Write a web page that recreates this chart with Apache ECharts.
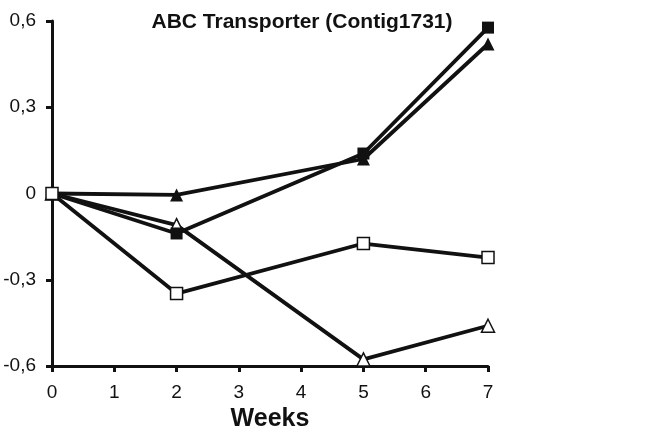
<!DOCTYPE html>
<html><head><meta charset="utf-8">
<script src="https://cdn.jsdelivr.net/npm/echarts@6/dist/echarts.min.js"></script>
<style>html,body{margin:0;padding:0;background:#fff}#c{width:660px;height:433px}</style>
</head><body><div id="c"></div>
<script>
var weeks = [0, 2, 5, 7];
var filledSquare = [0, -0.139, 0.139, 0.577];
var filledTriangle = [0, -0.005, 0.12, 0.52];
var openTriangle = [0, -0.11, -0.577, -0.46];
var openSquare = [0, -0.348, -0.174, -0.223];
var titleText = 'ABC Transporter (Contig1731)';
var xName = 'Weeks';

function pairs(vals){ return weeks.map(function(w,i){ return [w, vals[i]]; }); }
function ser(vals, sym, filled, z){
  return {type:'line', data:pairs(vals), symbol:sym, symbolSize: sym==='rect'?12:13,
    lineStyle:{color:'#111', width:3.8},
    itemStyle:{color: filled?'#111':'#fff', borderColor:'#111', borderWidth: filled?0:1.5},
    emphasis:{disabled:true}, animation:false, z:z};
}
var chart = echarts.init(document.getElementById('c'));
chart.setOption({
  animation:false,
  title:{text:titleText, left:297, textAlign:'center', top:7,
    textStyle:{fontFamily:'Liberation Sans', fontWeight:'bold', fontSize:21, color:'#111'}},
  grid:{left:52, right:172, top:21, bottom:67, containLabel:false, outerBoundsMode:'none'},
  xAxis:{type:'value', min:0, max:7, interval:1, name:xName, nameLocation:'middle', nameGap:38,
    nameTextStyle:{fontFamily:'Liberation Sans', fontWeight:'bold', fontSize:25, color:'#111'},
    axisLine:{onZero:false, lineStyle:{color:'#111', width:3}}, axisTick:{length:6, lineStyle:{color:'#111', width:3}},
    axisLabel:{fontFamily:'Liberation Sans', fontSize:19, color:'#111', margin:17},
    splitLine:{show:false}},
  yAxis:{type:'value', min:-0.6, max:0.6, interval:0.3,
    axisLine:{show:true, onZero:false, lineStyle:{color:'#111', width:3}}, axisTick:{show:true, length:6, lineStyle:{color:'#111', width:3}},
    axisLabel:{fontFamily:'Liberation Sans', fontSize:19, color:'#111', margin:16,
      formatter:function(v){ var r=Math.round(v*10)/10; return r===0?'0':String(r).replace('.',','); }},
    splitLine:{show:false}},
  series:[
    ser(openTriangle,'triangle',false,2),
    ser(filledTriangle,'triangle',true,3),
    ser(filledSquare,'rect',true,4),
    ser(openSquare,'rect',false,5)
  ]
});
</script></body></html>
